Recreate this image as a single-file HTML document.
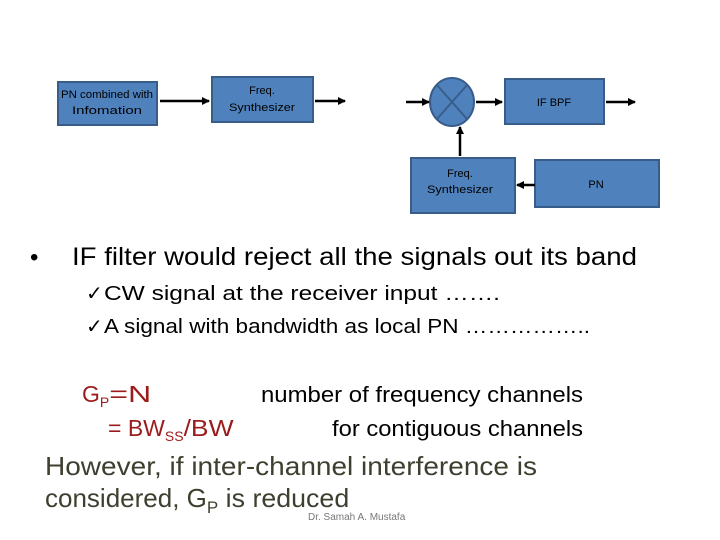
<!DOCTYPE html>
<html><head><meta charset="utf-8"><style>
html,body{margin:0;padding:0;background:#fff;}
svg{display:block;font-family:"Liberation Sans",sans-serif;}
</style></head><body>
<svg width="720" height="540" viewBox="0 0 720 540" xmlns="http://www.w3.org/2000/svg">
<defs><marker id="a" markerWidth="8" markerHeight="8" refX="7" refY="4" orient="auto" markerUnits="userSpaceOnUse"><path d="M0,0 L8,4 L0,8 z" fill="#000"/></marker></defs>
<g fill="#4f81bd" stroke="#385d8a" stroke-width="2">
<rect x="58" y="82" width="99" height="43"/>
<rect x="212" y="77" width="101" height="45"/>
<rect x="505" y="79" width="99" height="45"/>
<rect x="411" y="158" width="104" height="55"/>
<rect x="535" y="160" width="124" height="47"/>
<ellipse cx="452" cy="102" rx="22" ry="24"/>
</g>
<g stroke="#385d8a" stroke-width="2"><line x1="437" y1="85" x2="467" y2="119"/><line x1="467" y1="85" x2="437" y2="119"/></g>
<g stroke="#000" stroke-width="2.5" marker-end="url(#a)">
<line x1="160" y1="101" x2="209" y2="101"/>
<line x1="315" y1="101" x2="345" y2="101"/>
<line x1="406" y1="102" x2="429" y2="102"/>
<line x1="476" y1="102" x2="502" y2="102"/>
<line x1="606" y1="102" x2="635" y2="102"/>
<line x1="460" y1="156" x2="460" y2="127"/>
<line x1="535" y1="185" x2="517" y2="185"/>
</g>
<g font-size="11" fill="#000" text-anchor="middle">
<text x="107" y="98" textLength="92" lengthAdjust="spacingAndGlyphs">PN combined with</text>
<text x="107" y="114" textLength="70" lengthAdjust="spacingAndGlyphs">Infomation</text>
<text x="262" y="94">Freq.</text>
<text x="262" y="111" textLength="66" lengthAdjust="spacingAndGlyphs">Synthesizer</text>
<text x="554" y="106">IF BPF</text>
<text x="460" y="177">Freq.</text>
<text x="460" y="193" textLength="66" lengthAdjust="spacingAndGlyphs">Synthesizer</text>
<text x="596" y="188">PN</text>
</g>
<g fill="#000">
<text x="30" y="265" font-size="24">•</text>
<text x="72" y="265" font-size="25" textLength="565" lengthAdjust="spacingAndGlyphs">IF filter would reject all the signals out its band</text>
<text x="86" y="300" font-size="20">✓</text>
<text x="104" y="300" font-size="20" textLength="396" lengthAdjust="spacingAndGlyphs">CW signal at the receiver input …….</text>
<text x="86" y="333" font-size="20">✓</text>
<text x="104" y="333" font-size="20" textLength="486" lengthAdjust="spacingAndGlyphs">A signal with bandwidth as local PN ……………..</text>
<text x="261" y="402" font-size="22" textLength="322" lengthAdjust="spacingAndGlyphs">number of frequency channels</text>
<text x="332" y="436" font-size="22" textLength="251" lengthAdjust="spacingAndGlyphs">for contiguous channels</text>
</g>
<g fill="#9b1c1c" font-size="23">
<text x="82" y="402">G<tspan font-size="14" dy="5">P</tspan><tspan dy="-5" textLength="42" lengthAdjust="spacingAndGlyphs">=N</tspan></text>
<text x="108" y="436">= BW<tspan font-size="14" dy="5">SS</tspan><tspan dy="-5" textLength="50" lengthAdjust="spacingAndGlyphs">/BW</tspan></text>
</g>
<g fill="#3f3f30" font-size="26">
<text x="45" y="475" textLength="492" lengthAdjust="spacingAndGlyphs">However, if inter-channel interference is</text>
<text x="45" y="507">considered, G<tspan font-size="17" dy="6">P</tspan><tspan dy="-6" textLength="131" lengthAdjust="spacingAndGlyphs"> is reduced</tspan></text>
</g>
<text x="308" y="520" font-size="10" fill="#777">Dr. Samah A. Mustafa</text>
</svg>
</body></html>
